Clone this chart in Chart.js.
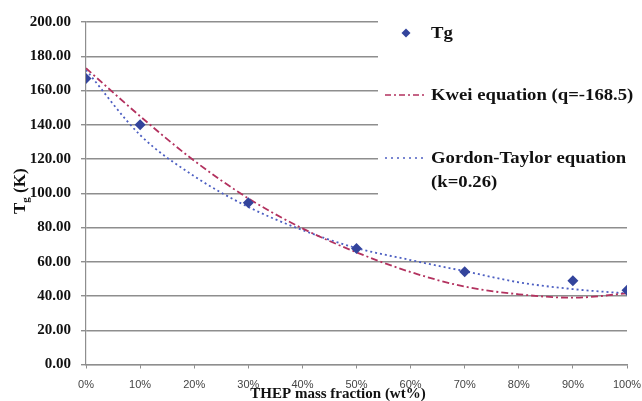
<!DOCTYPE html>
<html>
<head>
<meta charset="utf-8">
<script src="https://cdn.jsdelivr.net/npm/chart.js@4/dist/chart.umd.min.js"></script>
<style>
html,body{margin:0;padding:0;background:#fff;}
#wrap{width:642px;height:401px;}
</style>
</head>
<body>
<div id="wrap"><canvas id="c" width="642" height="401"></canvas></div>
<script>
// ---- data ----
const xTickValues = [0, 10, 20, 30, 40, 50, 60, 70, 80, 90, 100];
const xTickLabels = ['0%', '10%', '20%', '30%', '40%', '50%', '60%', '70%', '80%', '90%', '100%'];
const yTickValues = [0, 20, 40, 60, 80, 100, 120, 140, 160, 180, 200];

const massFraction = [0, 10, 30, 50, 70, 90, 100];
const tgValues = [167, 140, 94.5, 67.8, 54.2, 48.9, 43.3];

const curveFraction = [0, 10, 20, 30, 40, 50, 60, 70, 80, 90, 100];
const kweiValues = [173, 145, 119, 97, 79.5, 65.5, 54, 45.5, 41, 39, 41.5];
const gordonTaylorValues = [172, 134, 110, 92, 78.5, 68, 61, 54.5, 48, 44, 41.5];

const seriesLabels = ['Tg', 'Kwei equation (q=-168.5)', 'Gordon-Taylor equation', '(k=0.26)'];
const xTitle = 'THEP mass fraction (wt%)';
const yTitleMain = 'T', yTitleSub = 'g', yTitleRest = ' (K)';

// ---- styles ----
const DIAMOND = '#33449c';
const KWEI = '#b3325f';
const GT = '#4d5fc2';
const GRID = '#8e8e8e';
const SERIF = '"Liberation Serif", "Times New Roman", serif';

const pts = (xs, ys) => xs.map((x, i) => ({ x: x, y: ys[i] }));

function wideText(ctx, text, x, y, sx) {
  ctx.save();
  ctx.translate(x, y);
  ctx.scale(sx, 1);
  ctx.fillText(text, 0, 0);
  ctx.restore();
}

const overlay = {
  id: 'overlay',
  beforeDatasetsDraw(chart) {
    const ctx = chart.ctx;
    ctx.save();
    ctx.fillStyle = '#fff';
    ctx.fillRect(378, 0, chart.width - 378, 208);
    ctx.restore();
  },
  afterDraw(chart) {
    const ctx = chart.ctx;
    const ca = chart.chartArea;
    ctx.save();
    // legend
    const lx = 385, tx = 431, sx = 1.1;
    ctx.fillStyle = DIAMOND;
    ctx.beginPath();
    const dx = 406, dy = 33, r = 4.5;
    ctx.moveTo(dx - r, dy); ctx.lineTo(dx, dy - r); ctx.lineTo(dx + r, dy); ctx.lineTo(dx, dy + r);
    ctx.closePath(); ctx.fill();
    ctx.font = 'bold 17px ' + SERIF;
    ctx.fillStyle = '#111';
    ctx.textAlign = 'left';
    ctx.textBaseline = 'middle';
    wideText(ctx, seriesLabels[0], tx, 34, sx);
    ctx.strokeStyle = KWEI; ctx.lineWidth = 1.5; ctx.setLineDash([6, 3, 2, 3]);
    ctx.beginPath(); ctx.moveTo(lx, 95); ctx.lineTo(427, 95); ctx.stroke();
    wideText(ctx, seriesLabels[1], tx, 96, sx);
    ctx.strokeStyle = GT; ctx.setLineDash([2, 4]);
    ctx.beginPath(); ctx.moveTo(lx, 158); ctx.lineTo(427, 158); ctx.stroke();
    ctx.setLineDash([]);
    wideText(ctx, seriesLabels[2], tx, 159, sx);
    wideText(ctx, seriesLabels[3], tx, 183, sx);

    // x title
    ctx.font = 'bold 15px ' + SERIF;
    ctx.textAlign = 'center';
    ctx.textBaseline = 'alphabetic';
    ctx.fillText(xTitle, 338, 398);

    // y title (rotated, with subscript)
    const cy = (ca.top + ca.bottom) / 2 - 2;
    ctx.translate(19, cy);
    ctx.rotate(-Math.PI / 2);
    const fMain = 'bold 17px ' + SERIF, fSub = 'bold 11px ' + SERIF;
    ctx.font = fMain; const w1 = ctx.measureText(yTitleMain).width; const w3 = ctx.measureText(yTitleRest).width;
    ctx.font = fSub; const w2 = ctx.measureText(yTitleSub).width;
    let x0 = -(w1 + w2 + w3) / 2;
    ctx.textAlign = 'left';
    ctx.font = fMain; ctx.fillText(yTitleMain, x0, 6);
    ctx.font = fSub; ctx.fillText(yTitleSub, x0 + w1, 10);
    ctx.font = fMain; ctx.fillText(yTitleRest, x0 + w1 + w2, 6);
    ctx.restore();
  }
};

new Chart(document.getElementById('c'), {
  type: 'line',
  data: {
    datasets: [
      {
        label: seriesLabels[0],
        data: pts(massFraction, tgValues),
        showLine: false,
        pointStyle: 'rectRot',
        pointRadius: 5.5,
        pointBackgroundColor: DIAMOND,
        pointBorderColor: DIAMOND,
        pointBorderWidth: 0
      },
      {
        label: seriesLabels[1],
        data: pts(curveFraction, kweiValues),
        borderColor: KWEI,
        borderWidth: 1.8,
        borderDash: [7, 3, 2, 3],
        pointRadius: 0,
        cubicInterpolationMode: 'monotone',
        fill: false
      },
      {
        label: seriesLabels[2] + ' ' + seriesLabels[3],
        data: pts(curveFraction, gordonTaylorValues),
        borderColor: GT,
        borderWidth: 1.8,
        borderDash: [2, 3],
        pointRadius: 0,
        cubicInterpolationMode: 'monotone',
        fill: false
      }
    ]
  },
  options: {
    responsive: false,
    animation: false,
    devicePixelRatio: 1,
    layout: { padding: { top: 22, right: 15, left: 0, bottom: 0 } },
    plugins: { legend: { display: false }, tooltip: { enabled: false } },
    scales: {
      x: {
        type: 'linear',
        min: 0, max: 100,
        afterBuildTicks: (s) => { s.ticks = xTickValues.map(v => ({ value: v })); },
        afterFit: (s) => { s.height = 36.5; s.paddingLeft = 0; s.paddingRight = 0; },
        ticks: {
          callback: (v) => xTickLabels[xTickValues.indexOf(v)],
          font: { family: '"Liberation Sans", Arial, sans-serif', size: 11 },
          color: '#444',
          padding: 10,
          maxRotation: 0,
          autoSkip: false
        },
        grid: { drawOnChartArea: false, drawTicks: true, tickLength: 4, color: GRID, lineWidth: 1 },
        border: { color: GRID, width: 1.2 }
      },
      y: {
        min: 0, max: 200,
        afterBuildTicks: (s) => { s.ticks = yTickValues.map(v => ({ value: v })); },
        afterFit: (s) => { s.width = 86; s.paddingTop = 0; s.paddingBottom = 0; },
        ticks: {
          callback: (v) => v.toFixed(2),
          font: { family: SERIF, size: 15, weight: 'bold' },
          color: '#111',
          padding: 10
        },
        grid: { color: GRID, lineWidth: 1.4, tickLength: 5, drawTicks: true },
        border: { color: GRID, width: 1.2 }
      }
    }
  },
  plugins: [overlay]
});
</script>
</body>
</html>
